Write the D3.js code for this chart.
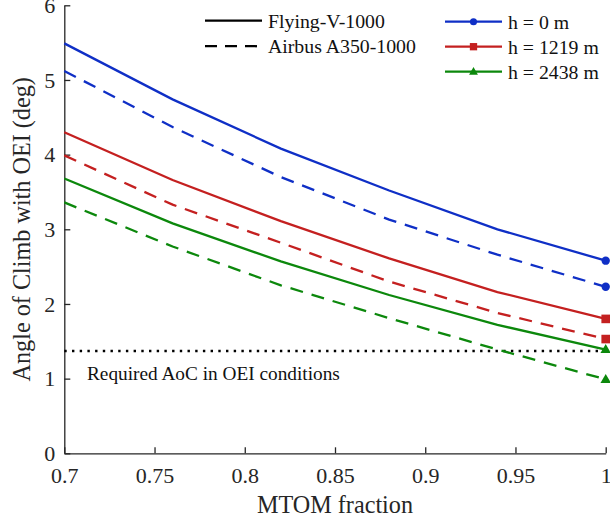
<!DOCTYPE html>
<html>
<head>
<meta charset="utf-8">
<script src="https://cdn.jsdelivr.net/npm/d3@7"></script>
<style>
  html, body { margin: 0; padding: 0; background: #fff; }
  svg { display: block; }
  text { font-family: "Liberation Serif", "Times New Roman", serif; }
</style>
</head>
<body>
<svg id="chart" width="610" height="522"></svg>
<script>
// ---- data ----
const mtomFraction = [0.7, 0.76, 0.82, 0.88, 0.94, 1.0];
const fv_h0    = [5.49, 4.74, 4.08, 3.52, 3.00, 2.58];
const fv_h1219 = [4.30, 3.66, 3.11, 2.61, 2.16, 1.80];
const fv_h2438 = [3.68, 3.08, 2.57, 2.12, 1.72, 1.39];
const a350_h0    = [5.12, 4.37, 3.70, 3.13, 2.66, 2.23];
const a350_h1219 = [3.99, 3.33, 2.82, 2.30, 1.88, 1.53];
const a350_h2438 = [3.36, 2.77, 2.25, 1.81, 1.39, 0.99];
const requiredAoC = 1.37;
const xTicks = [0.7, 0.75, 0.8, 0.85, 0.9, 0.95, 1];
const xTickLabels = ["0.7", "0.75", "0.8", "0.85", "0.9", "0.95", "1"];
const yTicks = [0, 1, 2, 3, 4, 5, 6];
const altitudeLabels = ["h = 0 m", "h = 1219 m", "h = 2438 m"];
const aircraftLabels = ["Flying-V-1000", "Airbus A350-1000"];
const seriesColors = ["#0f2fc6", "#c42020", "#0c880c"];
const markerTypes = ["circle", "square", "triangle"];

const svg = d3.select("#chart");
const mLeft = 64.3, mRight = 605.7, mTop = 5.3, mBottom = 453.3;
const axisColor = "#262626";

const x = d3.scaleLinear().domain([0.7, 1]).range([mLeft, mRight]);
const y = d3.scaleLinear().domain([0, 6]).range([mBottom, mTop]);

// axes
const xAxis = d3.axisBottom(x).tickValues(xTicks)
  .tickFormat((d, i) => xTickLabels[i]).tickSizeInner(-6).tickSizeOuter(0).tickPadding(14);
const yAxis = d3.axisLeft(y).tickValues(yTicks)
  .tickFormat(d3.format("d")).tickSizeInner(-6).tickSizeOuter(0).tickPadding(9);

const gx = svg.append("g").attr("transform", `translate(0,${mBottom})`).call(xAxis);
const gy = svg.append("g").attr("transform", `translate(${mLeft},0)`).call(yAxis);
[gx, gy].forEach(g => {
  g.select(".domain").attr("stroke", axisColor).attr("stroke-width", 1.3);
  g.selectAll(".tick line").attr("stroke", axisColor).attr("stroke-width", 1.3);
  g.selectAll(".tick text").attr("fill", axisColor)
    .style("font-family", "'Liberation Serif', 'Times New Roman', serif")
    .style("font-size", "22px");
});

// axis labels
svg.append("text").attr("x", (mLeft + mRight) / 2).attr("y", 512.5)
  .attr("text-anchor", "middle").attr("fill", axisColor)
  .style("font-size", "24.2px").text("MTOM fraction");
svg.append("text")
  .attr("transform", `translate(30,${(mTop + mBottom) / 2}) rotate(-90)`)
  .attr("text-anchor", "middle").attr("fill", axisColor)
  .style("font-size", "24.2px").text("Angle of Climb with OEI (deg)");

// required AoC line
svg.append("line")
  .attr("x1", x(0.7)).attr("x2", x(1))
  .attr("y1", y(requiredAoC)).attr("y2", y(requiredAoC))
  .attr("stroke", "#000").attr("stroke-width", 2.4)
  .attr("stroke-dasharray", "2.4,5.3");
svg.append("text").attr("x", 87).attr("y", y(requiredAoC) + 29)
  .attr("fill", "#111").style("font-size", "19.3px")
  .text("Required AoC in OEI conditions");

// series
const series = [
  { vals: fv_h0, c: 0, dash: null },
  { vals: a350_h0, c: 0, dash: "13,9" },
  { vals: fv_h1219, c: 1, dash: null },
  { vals: a350_h1219, c: 1, dash: "13,9" },
  { vals: fv_h2438, c: 2, dash: null },
  { vals: a350_h2438, c: 2, dash: "13,9" }
];
const line = d3.line().x((d, i) => x(mtomFraction[i])).y(d => y(d));

function drawMarker(g, type, cx, cy, color, s) {
  if (type === "circle") {
    g.append("circle").attr("cx", cx).attr("cy", cy).attr("r", 4.2 * s).attr("fill", color);
  } else if (type === "square") {
    const h = 4.3 * s;
    g.append("rect").attr("x", cx - h).attr("y", cy - h).attr("width", 2 * h).attr("height", 2 * h).attr("fill", color);
  } else {
    const r = 5.5 * s;
    g.append("path").attr("d", `M${cx},${cy - r}L${cx + r * 0.95},${cy + r * 0.65}L${cx - r * 0.95},${cy + r * 0.65}Z`).attr("fill", color);
  }
}

const gs = svg.append("g");
series.forEach(s => {
  gs.append("path").datum(s.vals).attr("d", line)
    .attr("fill", "none").attr("stroke", seriesColors[s.c]).attr("stroke-width", 2.3)
    .attr("stroke-dasharray", s.dash);
  const last = s.vals.length - 1;
  drawMarker(gs, markerTypes[s.c], x(mtomFraction[last]), y(s.vals[last]), seriesColors[s.c], 1);
});

// legend 1: aircraft (line style)
const leg1 = svg.append("g");
aircraftLabels.forEach((lab, i) => {
  const yy = 20.7 + i * 25.5;
  leg1.append("line").attr("x1", 205).attr("x2", 262).attr("y1", yy).attr("y2", yy)
    .attr("stroke", "#000").attr("stroke-width", 2.3)
    .attr("stroke-dasharray", i === 1 ? "12,8" : null);
  leg1.append("text").attr("x", 268).attr("y", yy + 7)
    .attr("fill", "#111").style("font-size", "19.8px").text(lab);
});

// legend 2: altitude (colour + marker)
const leg2 = svg.append("g");
altitudeLabels.forEach((lab, i) => {
  const yy = 21.7 + i * 25;
  leg2.append("line").attr("x1", 445).attr("x2", 502).attr("y1", yy).attr("y2", yy)
    .attr("stroke", seriesColors[i]).attr("stroke-width", 2.3);
  drawMarker(leg2, markerTypes[i], 473.5, yy, seriesColors[i], 0.85);
  leg2.append("text").attr("x", 508).attr("y", yy + 7)
    .attr("fill", "#111").style("font-size", "19.8px").text(lab);
});
</script>
</body>
</html>
